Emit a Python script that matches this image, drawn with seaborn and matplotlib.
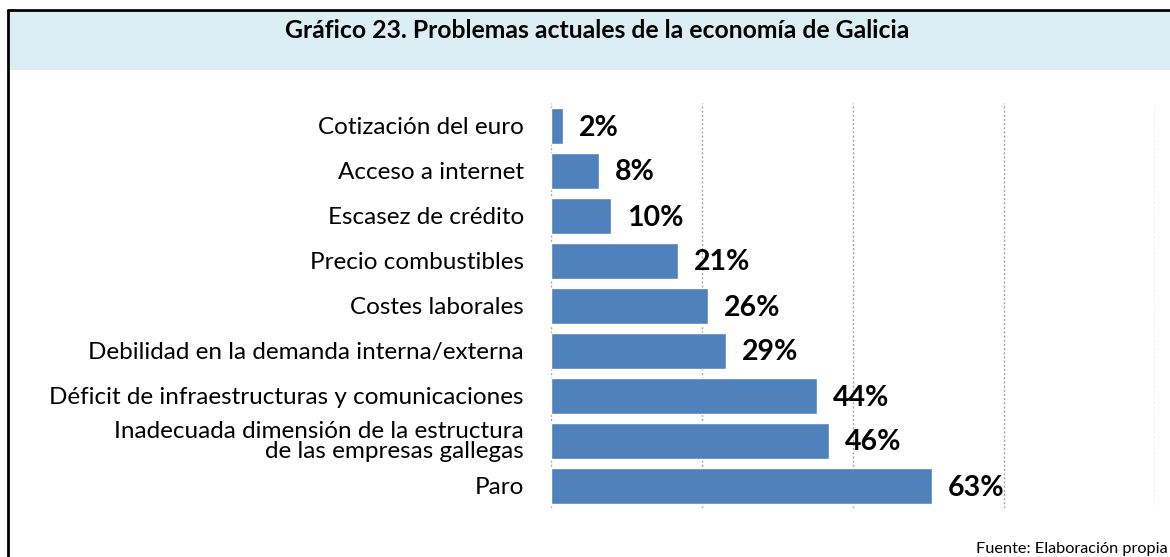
import matplotlib
matplotlib.use("Agg")
import matplotlib.pyplot as plt
import seaborn as sns
import pandas as pd
from matplotlib.patches import Rectangle
from matplotlib.lines import Line2D

# Datos del gráfico
categorias = [
    "Cotización del euro",
    "Acceso a internet",
    "Escasez de crédito",
    "Precio combustibles",
    "Costes laborales",
    "Debilidad en la demanda interna/externa",
    "Déficit de infraestructuras y comunicaciones",
    "Inadecuada dimensión de la estructura\nde las empresas gallegas",
    "Paro",
]
porcentajes = [2, 8, 10, 21, 26, 29, 44, 46, 63]
titulo = "Gráfico 23. Problemas actuales de la economía de Galicia"
fuente = "Fuente: Elaboración propia"

df = pd.DataFrame({"categoria": categorias, "pct": porcentajes})

sns.set_style("white")
plt.rcParams["font.family"] = ["Lato", "DejaVu Sans"]
plt.rcParams["text.color"] = "black"
plt.rcParams["ytick.color"] = "black"

W, H = 1170, 557
fig = plt.figure(figsize=(W / 100, H / 100), dpi=100)

# banda del titulo y marco
fig.add_artist(Rectangle((8 / W, 1 - 70 / H), 1, 59 / H, transform=fig.transFigure,
                         facecolor="#DAEEF3", edgecolor="none", zorder=0))
fig.add_artist(Line2D([7.5 / W, 1], [1 - 9.5 / H] * 2, transform=fig.transFigure,
                      color="black", lw=2))
fig.add_artist(Line2D([7.5 / W] * 2, [0, 1 - 9.5 / H], transform=fig.transFigure,
                      color="black", lw=2))
fig.text(597 / W, 1 - 31 / H, titulo, ha="center", va="center",
         fontsize=17.8, fontweight="bold")
fig.text(1168 / W, 1 - 549 / H, fuente, ha="right", va="center", fontsize=11.7)

ax = fig.add_axes([551 / W, 1 - 508 / H, 604 / W, 405 / H])
sns.barplot(data=df, x="pct", y="categoria", orient="h", color="#4F81BD",
            saturation=1, width=0.8, ax=ax)

ax.set_xlim(0, 100)
ax.set_xticks([0, 25, 50, 75, 100])
ax.set_xticklabels([])
ax.tick_params(axis="both", length=0)
ax.tick_params(axis="y", pad=19.5, labelsize=17.5)
for lbl in ax.get_yticklabels():
    lbl.set_linespacing(0.92)
ax.grid(axis="x", color="#A6A6A6", linestyle=(0, (1.5, 1.5)), lw=1)
ax.set_axisbelow(True)
for s in ax.spines.values():
    s.set_visible(False)
ax.set_xlabel("")
ax.set_ylabel("")

for i, v in enumerate(porcentajes):
    ax.annotate(f"{v}%", (v, i), xytext=(16, -2), textcoords="offset pixels",
                ha="left", va="center", fontsize=20.5, fontweight="bold")

fig.savefig("out.png", dpi=100)
